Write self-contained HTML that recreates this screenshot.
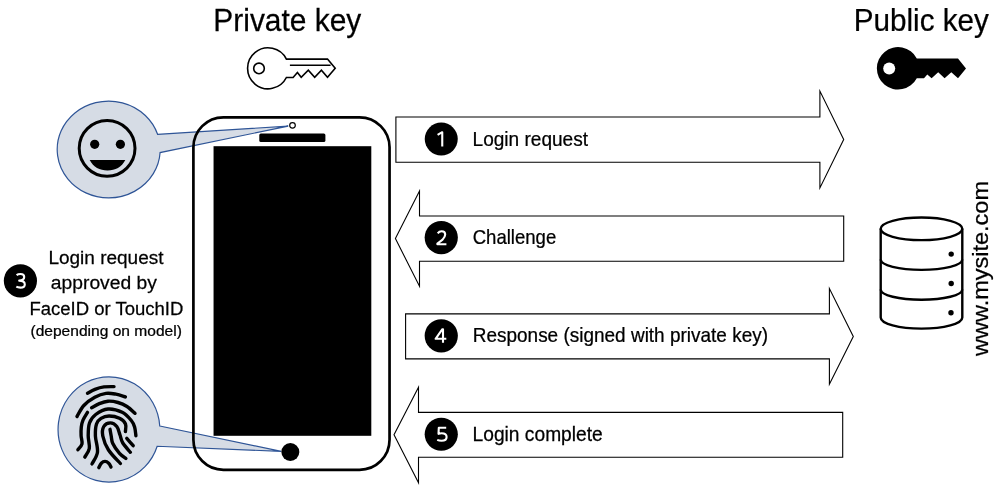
<!DOCTYPE html>
<html><head><meta charset="utf-8">
<style>
html,body{margin:0;padding:0;background:#fff;width:1000px;height:494px;overflow:hidden}
svg{display:block;will-change:transform}
text{font-family:"Liberation Sans",sans-serif}
</style></head>
<body>
<svg width="1000" height="494" viewBox="0 0 1000 494">

<!-- private key outline -->
<g fill="none" stroke="#000" stroke-width="1.6" stroke-linejoin="miter">
  <path d="M286.4,59.1 A20.5,20.5 0 1 0 286.4,77.5 L293.1,77.5 L297.4,72.5 L301.2,77.3 L308.3,70.2 L314.7,77.3 L321.4,70.2 L327.5,77.3 L335.2,68.3 L327.5,59.1 Z"/>
  <circle cx="259" cy="68.4" r="5.3"/>
  <path d="M289.9,65.2 L330.6,65.2"/>
</g>
<!-- public key solid -->
<path d="M916.8,58.4 A21.2,21.2 0 1 0 916.8,78.2 L924,78.2 L927.3,74.5 L931.6,78.2 L938.2,72.3 L944.6,78.2 L951.3,72.3 L958,78.2 L966,68.4 L958,58.4 Z" fill="#000"/>
<circle cx="889.2" cy="68.4" r="6" fill="#fff"/>

<!-- callouts -->
<path d="M157.6,134.3 L288.2,126.1 L160.1,152.55 A51.5,48.4 0 1 1 157.6,134.3 Z" fill="#d6dce5" stroke="#2f5597" stroke-width="1.2"/>
<path d="M159.75,426 L281.3,451.4 L157.2,446.25 A50.9,52.65 0 1 1 159.75,426 Z" fill="#d6dce5" stroke="#2f5597" stroke-width="1.2"/>

<!-- smiley -->
<circle cx="107.1" cy="148.35" r="27.9" fill="none" stroke="#000" stroke-width="3"/>
<circle cx="94.7" cy="144.3" r="4.6" fill="#000"/>
<circle cx="120.4" cy="144.3" r="4.6" fill="#000"/>
<path d="M89.7,160.1 H125.3 C121.5,167.6 115.5,170.5 107.5,170.5 C99.5,170.5 93.5,167.6 89.7,160.1 Z" fill="#000"/>

<!-- fingerprint -->
<g fill="none" stroke="#000" stroke-width="3.4" stroke-linecap="round" stroke-linejoin="round">
  <path d="M87.50,393.20 C88.75,392.55 92.25,390.35 95.00,389.30 C97.75,388.25 100.83,387.35 104.00,386.90 C107.17,386.45 112.33,386.65 114.00,386.60"/>
  <path d="M77.00,416.50 C78.14,414.67 80.88,408.70 83.85,405.50 C86.82,402.30 91.11,399.32 94.80,397.30 C98.49,395.28 102.47,393.92 106.00,393.40 C109.53,392.88 112.77,393.62 116.00,394.20 C119.23,394.78 123.83,396.45 125.40,396.90"/>
  <path d="M91.60,407.80 C92.89,407.10 96.62,404.70 99.35,403.60 C102.08,402.50 104.89,401.38 108.00,401.20 C111.11,401.02 114.83,401.62 118.00,402.50 C121.17,403.38 124.17,404.70 127.00,406.50 C129.83,408.30 133.67,412.17 135.00,413.30"/>
  <path d="M87.50,412.40 C86.75,413.68 84.03,417.67 83.00,420.10 C81.97,422.53 81.62,424.40 81.30,427.00 C80.98,429.60 80.98,432.88 81.10,435.70 C81.22,438.52 82.53,441.55 82.00,443.90 C81.47,446.25 78.58,448.82 77.90,449.80"/>
  <path d="M84.80,457.10 C85.55,455.65 88.73,451.97 89.30,448.40 C89.87,444.83 88.17,439.93 88.20,435.70 C88.23,431.47 88.25,426.53 89.50,423.00 C90.75,419.47 92.62,416.83 95.70,414.50 C98.78,412.17 103.58,409.37 108.00,409.00 C112.42,408.63 118.32,410.38 122.20,412.30 C126.08,414.22 129.23,418.05 131.30,420.50 C133.37,422.95 133.83,424.47 134.60,427.00 C135.37,429.53 135.68,434.25 135.90,435.70"/>
  <path d="M92.00,463.90 C92.92,461.93 96.93,456.75 97.50,452.10 C98.07,447.45 95.57,440.68 95.40,436.00 C95.23,431.32 95.57,426.93 96.50,424.00 C97.43,421.07 98.92,419.73 101.00,418.40 C103.08,417.07 105.92,416.02 109.00,416.00 C112.08,415.98 116.75,416.97 119.50,418.30 C122.25,419.63 124.52,421.78 125.50,424.00 C126.48,426.22 125.42,430.33 125.40,431.60"/>
  <path d="M120.40,463.50 C118.42,461.25 111.43,454.58 108.50,450.00 C105.57,445.42 103.58,439.92 102.80,436.00 C102.02,432.08 102.53,428.68 103.80,426.50 C105.07,424.32 108.23,422.90 110.40,422.90 C112.57,422.90 115.20,424.48 116.80,426.50 C118.40,428.52 119.00,432.25 120.00,435.00 C121.00,437.75 121.07,440.12 122.80,443.00 C124.53,445.88 129.13,450.75 130.40,452.30"/>
  <path d="M110.00,429.30 C110.20,430.42 110.73,433.63 111.20,436.00 C111.67,438.37 111.42,440.60 112.80,443.50 C114.18,446.40 117.32,450.90 119.50,453.40 C121.68,455.90 124.83,457.65 125.90,458.50"/>
  <path d="M126.80,438.40 C127.87,439.62 132.13,444.48 133.20,445.70"/>
  <path d="M98.80,467.60 C99.22,466.87 100.27,464.23 101.30,463.20 C102.33,462.17 103.77,461.40 105.00,461.40 C106.23,461.40 107.70,462.27 108.70,463.20 C109.70,464.13 110.62,466.37 111.00,467.00"/>
</g>

<!-- phone -->
<rect x="193.4" y="117.3" width="196.15" height="352.5" rx="30" ry="30" fill="none" stroke="#000" stroke-width="2.7"/>
<circle cx="292.5" cy="125.35" r="2.8" fill="#fff" stroke="#000" stroke-width="1.2"/>
<rect x="259.3" y="133.45" width="66.1" height="8.55" rx="1.6" fill="#000"/>
<rect x="213.55" y="146.2" width="157.75" height="289.6" fill="#000"/>
<circle cx="290.35" cy="452" r="9" fill="#000"/>

<!-- arrows -->
<g fill="#fff" stroke="#000" stroke-width="1.1" stroke-linejoin="miter" stroke-miterlimit="10">
  <path d="M395.9,117 H819.9 V91 L843.7,139.6 L819.9,188 V162.3 H395.9 Z"/>
  <path d="M395.4,238.6 L419.5,191 V216 H843.7 V261.2 H419.5 V286.2 Z"/>
  <path d="M405.6,313.9 H829.4 V288.6 L853.3,336.4 L829.4,384.2 V358.9 H405.6 Z"/>
  <path d="M394,434.8 L418.5,387.2 V412.4 H842.7 V457.2 H418.5 V482.8 Z"/>
</g>

<!-- number circles -->
<circle cx="441.25" cy="139.05" r="16.5" fill="#000"/>
<circle cx="441.25" cy="237.6" r="16.6" fill="#000"/>
<circle cx="20.4" cy="280.8" r="16.6" fill="#000"/>
<circle cx="441.25" cy="335.8" r="16.6" fill="#000"/>
<circle cx="441.25" cy="434.25" r="16.6" fill="#000"/>

<!-- database -->
<g fill="none" stroke="#000" stroke-width="2.4">
  <path d="M880.7,228.8 V317.4 A40.8,11.2 0 0 0 962.3,317.4 V228.8"/>
  <ellipse cx="921.5" cy="228.8" rx="40.8" ry="11.3"/>
  <path d="M880.7,259.6 A40.8,10.3 0 0 0 962.3,259.6"/>
  <path d="M880.7,289.5 A40.8,10.3 0 0 0 962.3,289.5"/>
</g>
<circle cx="951.2" cy="254.1" r="2.7" fill="#000"/>
<circle cx="951.2" cy="283.5" r="2.7" fill="#000"/>
<circle cx="951" cy="312.8" r="2.7" fill="#000"/>

<g fill="#000" stroke="#000" stroke-width="0.25">
<text transform="translate(213.36,31.00) scale(0.9412,1)" font-size="31.77">Private key</text>
<text transform="translate(853.73,30.70) scale(0.9508,1)" font-size="31.19">Public key</text>
<text transform="translate(472.57,145.90) scale(0.9742,1)" font-size="19.57">Login request</text>
<text transform="translate(472.67,243.70) scale(0.9491,1)" font-size="19.57">Challenge</text>
<text transform="translate(472.73,341.90) scale(0.9703,1)" font-size="19.57">Response (signed with private key)</text>
<text transform="translate(472.56,440.60) scale(0.9815,1)" font-size="19.57">Login complete</text>
<text transform="translate(48.38,264.40) scale(0.9870,1)" font-size="19.27">Login request</text>
<text transform="translate(50.83,289.40) scale(1.0007,1)" font-size="19.27">approved by</text>
<text transform="translate(29.42,314.60) scale(1.0125,1)" font-size="18.29">FaceID or TouchID</text>
<text transform="translate(30.47,335.50) scale(1.1125,1)" font-size="14.00">(depending on model)</text>
<text transform="translate(987.60,355.95) rotate(-90) scale(1.0495,1)" font-size="22.40">www.mysite.com</text>
</g>
<g fill="none" stroke="#fff" stroke-width="2.1" stroke-linejoin="round">
<path d="M442.25,146.4 V132.2 L437.6,134.9"/>
<path d="M437.7,233.3 Q439.2,231.3 441.6,231.3 Q445.2,231.3 445.2,234.6 Q445.2,236.8 442.6,239.6 L437.4,243.6 V244.3 H446.4"/>
<path d="M16.6,275.1 Q18,274 20.5,274 Q24.2,274 24.2,277 Q24.2,280.4 19.2,280.6 Q24.8,280.8 24.8,284.4 Q24.8,287.6 20.4,287.6 Q17.8,287.6 16.3,286.7"/>
<path d="M443,342.8 V329.2 H442.4 L435.6,338.8 H446.3"/>
<path d="M446.2,427.8 H438.8 L438.5,433.9 Q440,433.2 441.6,433.2 Q446.6,433.2 446.6,436.9 Q446.6,440.7 441.5,440.7 Q439,440.7 437.2,439.9"/>
</g>
</svg>
</body></html>
